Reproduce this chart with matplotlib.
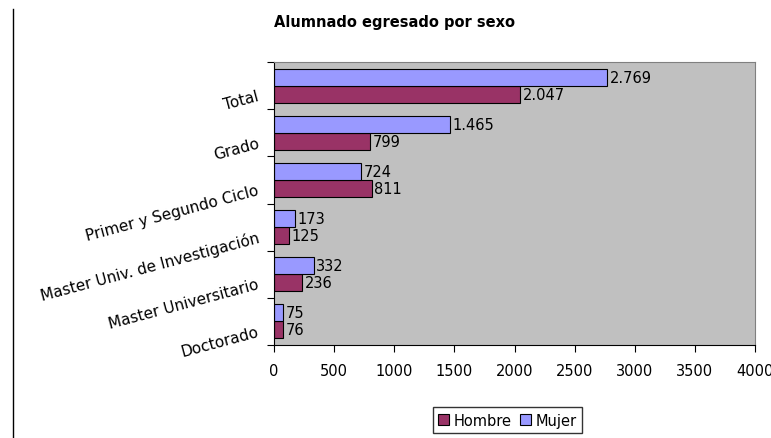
"""
Alumnado egresado por sexo - horizontal grouped bars, Excel style.
"""
import matplotlib
matplotlib.use("Agg")
import numpy as np
from matplotlib import pyplot as plt
from matplotlib import transforms
from matplotlib.lines import Line2D

plt.rcParams["font.family"] = ["DejaVu Sans"]

categories = ["Total", "Grado", "Primer y Segundo Ciclo",
              "Master Univ. de Investigación", "Master Universitario", "Doctorado"]
hombre = [2047, 799, 811, 125, 236, 76]
mujer = [2769, 1465, 724, 173, 332, 75]
x_ticks = [0, 500, 1000, 1500, 2000, 2500, 3000, 3500, 4000]

HOMBRE_COLOUR = "#993366"
MUJER_COLOUR = "#9999FF"


def fmt(value: int) -> str:
    """Thousands separated by a period, like the Spanish Excel output."""
    return f"{value:,}".replace(",", ".")


fig = plt.figure(figsize=(7.71, 4.39), dpi=100)
ax = fig.add_axes([0.3554, 0.2118, 0.6239, 0.6447])
ax.set_facecolor("#C0C0C0")

y = np.arange(len(categories))
height = 0.36
bars_h = ax.barh(y + height / 2, hombre, height, color=HOMBRE_COLOUR,
                 edgecolor="black", linewidth=0.8, label="Hombre")
bars_m = ax.barh(y - height / 2, mujer, height, color=MUJER_COLOUR,
                 edgecolor="black", linewidth=0.8, label="Mujer")

for bars, values in ((bars_h, hombre), (bars_m, mujer)):
    for bar, value in zip(bars, values):
        ax.text(bar.get_width() + 20, bar.get_y() + bar.get_height() / 2, fmt(value),
                va="center", ha="left", fontsize=10.5)

ax.set_xlim(0, 4000)
ax.set_ylim(len(categories) - 0.5, -0.5)
ax.set_xticks(x_ticks)
ax.set_xticklabels([str(v) for v in x_ticks], fontsize=10.5)

# category boundaries carry the ticks, labels sit at group centres
ax.set_yticks(np.arange(-0.5, len(categories)))
ax.set_yticklabels([])
ax.set_yticks(y, minor=True)
ax.set_yticklabels(categories, minor=True, fontsize=11, rotation=15,
                   ha="right", va="center", rotation_mode="anchor")
ax.tick_params(axis="y", which="minor", length=0, pad=11)
ax.tick_params(axis="y", which="major", length=5, direction="out")
ax.tick_params(axis="x", length=5, direction="out", pad=8)
offset = transforms.ScaledTranslation(0, -7 / 72, fig.dpi_scale_trans)
for label in ax.get_yticklabels(minor=True):
    label.set_transform(label.get_transform() + offset)

for side in ("top", "right"):
    ax.spines[side].set_color("#808080")
for side in ("left", "bottom"):
    ax.spines[side].set_color("black")

fig.text(0.512, 0.948, "Alumnado egresado por sexo", ha="center", va="center",
         fontsize=10.5, fontweight="bold")

handles = [bars_h, bars_m]
leg = fig.legend(handles, ["Hombre", "Mujer"], loc="center", bbox_to_anchor=(0.658, 0.041),
                 ncol=2, fontsize=10.5, frameon=True, fancybox=False, handlelength=0.75,
                 handleheight=0.75, handletextpad=0.3, columnspacing=0.6, borderpad=0.35)
leg.get_frame().set_edgecolor("black")
leg.get_frame().set_linewidth(1.0)

fig.add_artist(Line2D([13 / 771, 13 / 771], [0, 1 - 10 / 439], color="black", linewidth=1.0))

fig.savefig("out.png", dpi=100)
